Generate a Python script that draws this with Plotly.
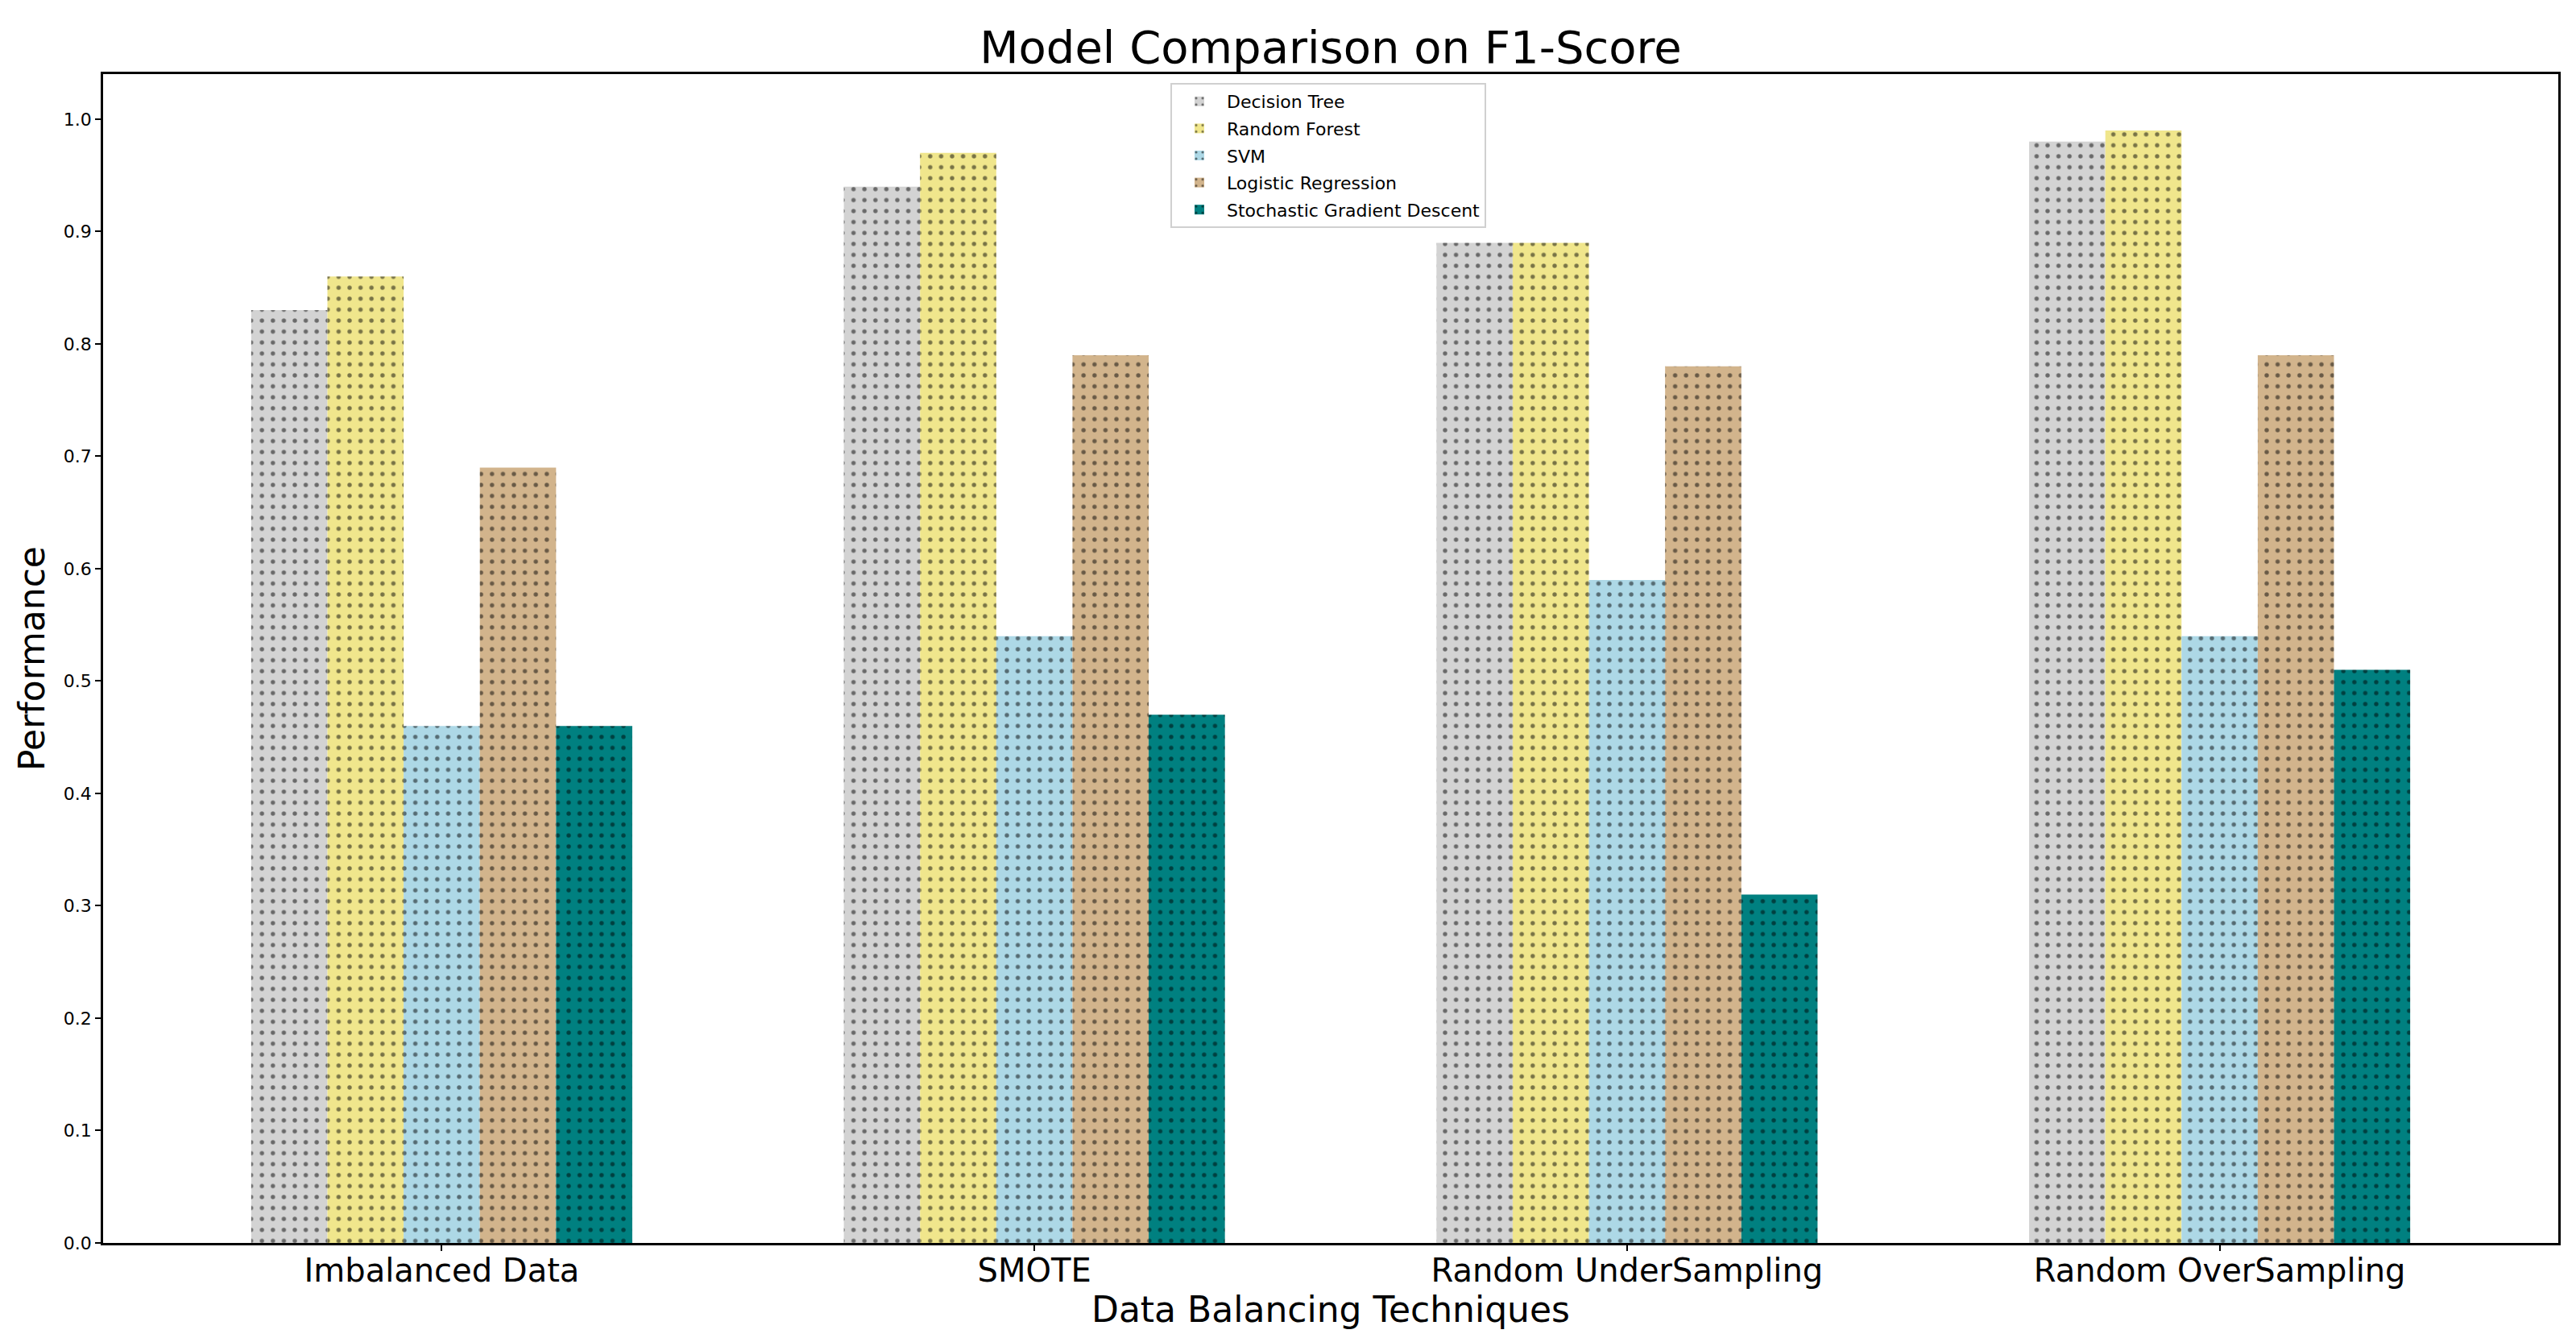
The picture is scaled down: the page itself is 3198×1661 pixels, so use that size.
import plotly.graph_objects as go

techniques = ["Imbalanced Data", "SMOTE", "Random UnderSampling", "Random OverSampling"]
models = ["Decision Tree", "Random Forest", "SVM", "Logistic Regression", "Stochastic Gradient Descent"]
decision_tree = [0.83, 0.94, 0.89, 0.98]
random_forest = [0.86, 0.97, 0.89, 0.99]
svm = [0.46, 0.54, 0.59, 0.54]
logistic_regression = [0.69, 0.79, 0.78, 0.79]
sgd = [0.46, 0.47, 0.31, 0.51]
y_ticks = [0.0, 0.1, 0.2, 0.3, 0.4, 0.5, 0.6, 0.7, 0.8, 0.9, 1.0]

series = [decision_tree, random_forest, svm, logistic_regression, sgd]
colors = ["#d3d3d3", "#f0e68c", "#add8e6", "#d2b48c", "#008080"]

FONT = "DejaVu Sans"
W, H = 3198, 1661
L, R, T, B = 120, 30, 84, 126

fig = go.Figure()
for name, vals, col in zip(models, series, colors):
    fig.add_trace(go.Bar(
        x=techniques, y=vals, name=name, legendgroup=name,
        marker=dict(color=col, line=dict(width=0),
                    pattern=dict(shape=".", fgcolor="black", bgcolor=col,
                                 size=13.6, solidity=0.12, fillmode="overlay")),
    ))

fig.update_layout(
    width=W, height=H,
    margin=dict(l=L, r=R, t=T, b=B, pad=0),
    paper_bgcolor="white", plot_bgcolor="white",
    barmode="group", bargap=0.357, bargroupgap=0,
    font=dict(family=FONT, color="black"),
    title=dict(text="Model Comparison on F1-Score", x=0.5 + (L - R) / 2 / W, xanchor="center",
               y=1 - 50 / H, yanchor="middle", yref="container",
               font=dict(size=56, family=FONT, color="black")),
    legend=dict(x=(1445 - L) / (W - L - R), y=(H - B - 95) / (H - T - B),
                xanchor="left", yanchor="top",
                bgcolor="white", bordercolor="#d0d0d0", borderwidth=2,
                font=dict(size=22, family=FONT, color="black"),
                tracegroupgap=2, itemwidth=58),
    showlegend=True,
)
fig.update_xaxes(
    type="category", range=[-0.5714, 3.5714],
    showline=True, linecolor="black", linewidth=2.5, mirror=True,
    ticks="outside", ticklen=7, tickwidth=2, tickcolor="black",
    ticklabelstandoff=-10,
    showgrid=False, zeroline=False,
    tickfont=dict(size=40, family=FONT, color="black"),
    title=dict(text="Data Balancing Techniques", font=dict(size=44, family=FONT, color="black"), standoff=6),
)
fig.update_yaxes(
    range=[0, 1.0401], tickvals=y_ticks, tickformat=".1f",
    showline=True, linecolor="black", linewidth=2.5, mirror=True,
    ticks="outside", ticklen=7, tickwidth=2, tickcolor="black",
    showgrid=False, zeroline=False,
    tickfont=dict(size=22, family=FONT, color="black"),
    title=dict(text="Performance", font=dict(size=44, family=FONT, color="black"), standoff=10),
)

fig.write_html("out.html")
